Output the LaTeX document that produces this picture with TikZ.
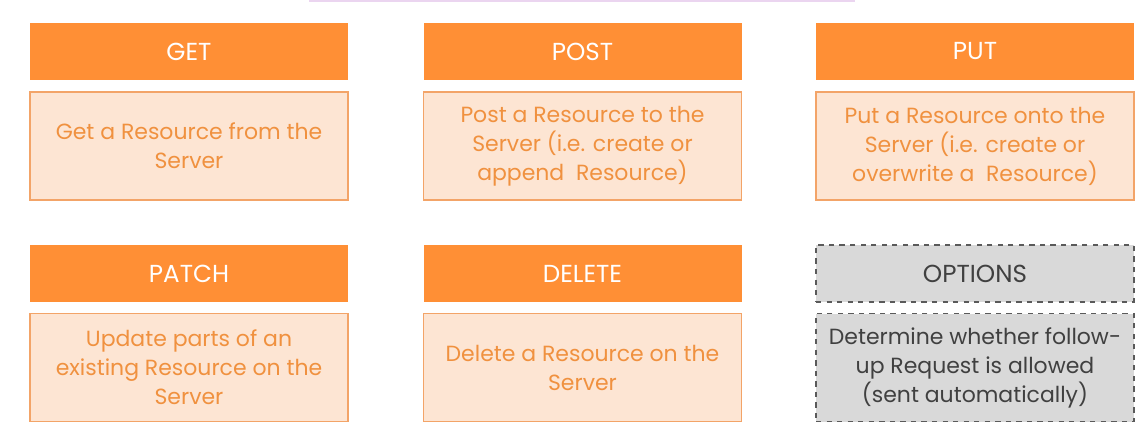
\documentclass[tikz,border=0pt]{standalone}
\usepackage{fontspec}
\setmainfont{Poppins}
\definecolor{hdrorange}{HTML}{FF8F35}
\definecolor{descfill}{HTML}{FDE5D3}
\definecolor{descline}{HTML}{F3A468}
\definecolor{desctext}{HTML}{F0913F}
\definecolor{optfill}{HTML}{D9D9D9}
\definecolor{optline}{HTML}{5A5A5A}
\definecolor{opttext}{HTML}{404040}
\definecolor{topline}{HTML}{EBD5F0}
\begin{document}
\begin{tikzpicture}[
  hdr/.style={rectangle, draw=none, fill=hdrorange, text=white,
              align=center, font=\fontsize{14}{17}\selectfont,
              minimum width=6.36cm, minimum height=1.14cm, inner sep=0pt},
  desc/.style={rectangle, draw=descline, line width=0.8pt, fill=descfill,
               text=desctext, align=center,
               font=\fontsize{12.5}{16.5}\selectfont,
               minimum width=6.36cm, minimum height=2.16cm, inner sep=0pt},
  opthdr/.style={rectangle, dashed, draw=optline, line width=0.7pt,
                 fill=optfill, text=opttext, align=center,
                 font=\fontsize{14}{17}\selectfont,
                 minimum width=6.36cm, minimum height=1.14cm, inner sep=0pt},
  optdesc/.style={rectangle, dashed, draw=optline, line width=0.7pt,
                  fill=optfill, text=opttext, align=center,
                  font=\fontsize{12.5}{16.5}\selectfont,
                  minimum width=6.36cm, minimum height=2.16cm, inner sep=0pt},
]
\useasboundingbox (0,0) rectangle (22.94,-8.8);

% thin strip along the top edge
\draw[topline, line width=1.2pt] (6.18,-0.02) -- (17.1,-0.02);

% Column x positions: 3.78 11.65 19.5
% Row 1
\node[hdr]  (GET)   at ( 3.78,-1.03) {GET};
\node[desc] (GETd)  at ( 3.78,-2.92) {Get a Resource from the\\Server};

\node[hdr]  (POST)  at (11.65,-1.03) {POST};
\node[desc] (POSTd) at (11.65,-2.92) {Post a Resource to the\\Server (i.e. create or\\append\ \ Resource)};

\node[hdr]  (PUT)   at (19.50,-1.03) {PUT};
\node[desc] (PUTd)  at (19.50,-2.92) {Put a Resource onto the\\Server (i.e. create or\\overwrite a\ \ Resource)};

% Row 2
\node[hdr]  (PATCH)  at ( 3.78,-5.47) {PATCH};
\node[desc] (PATCHd) at ( 3.78,-7.35) {Update parts of an\\existing Resource on the\\Server};

\node[hdr]  (DEL)    at (11.65,-5.47) {DELETE};
\node[desc] (DELd)   at (11.65,-7.35) {Delete a Resource on the\\Server};

\node[opthdr]  (OPT)  at (19.50,-5.47) {OPTIONS};
\node[optdesc] (OPTd) at (19.50,-7.35) {Determine whether follow-\\up Request is allowed\\(sent automatically)};

\end{tikzpicture}
\end{document}
